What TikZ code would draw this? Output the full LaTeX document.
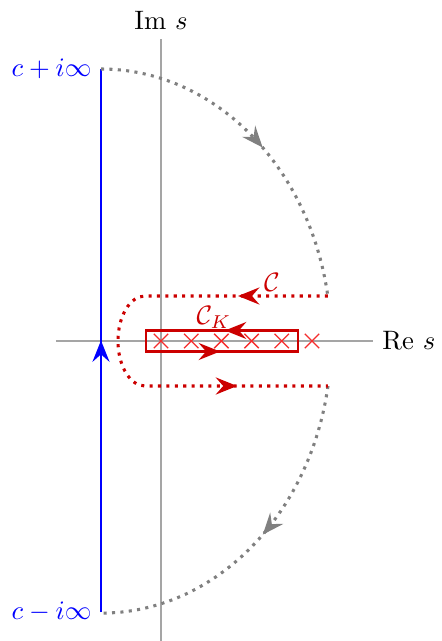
\documentclass[tikz,border=0pt]{standalone}
\usetikzlibrary{arrows.meta,decorations.markings,shapes.misc}
\definecolor{cred}{RGB}{204,0,0}
\definecolor{xred}{RGB}{245,45,45}
\definecolor{arcgray}{RGB}{128,128,128}
\definecolor{axgray}{RGB}{165,165,165}
\begin{document}
\begin{tikzpicture}[x=0.375pt,y=0.375pt,
  midarrow/.style={postaction={decorate},decoration={markings,mark=at position #1 with {\arrow{Stealth[length=8pt,width=6.4pt,inset=2.8pt]}}}},
  axisline/.style={axgray, line width=0.5pt},
  arcline/.style={arcgray, line width=1.15pt, dotted},
  contour/.style={cred, line width=1.15pt, dotted},
  xmk/.style={cross out, draw=xred, line width=0.5pt, minimum size=4.9pt, inner sep=0pt},
  lbl/.style={inner sep=3.33pt}]
\useasboundingbox (-161,341) rectangle (281,-300);
% axes
\coordinate (hl) at (-105,0);
\coordinate (hr) at (212,0);
\coordinate (vt) at (0,302);
\coordinate (vb) at (0,-300);
\draw[axisline] (hl) -- (hr);
\draw[axisline] (vt) -- (vb);
\node[lbl, anchor=west] (re) at (hr) {Re $s$};
\node[lbl, anchor=south] (im) at (vt) {Im $s$};
% blue line
\coordinate (ct) at (-60,272);
\coordinate (cb) at (-60,-271);
\draw[blue, line width=0.9pt, midarrow=0.5] (cb) -- (ct);
\node[blue, lbl, anchor=east] (cpl) at (ct) {$c+i\infty$};
\node[blue, lbl, anchor=east] (cmi) at (cb) {$c-i\infty$};
% gray arcs
\coordinate (ur) at (167,45);
\coordinate (lr) at (167,-45);
\draw[arcline, midarrow=0.53] (ct) arc[start angle=90, end angle=9.5, x radius=86.25pt, y radius=102pt];
\draw[arcline, midarrow=0.47] (lr) arc[start angle=-9.5, end angle=-90, x radius=86.25pt, y radius=102pt];
% red contour C
\coordinate (ul) at (-16,45);
\draw[contour, postaction={decorate}, decoration={markings,
   mark=at position 0.187 with {\arrow{Stealth[length=8pt,width=6.4pt,inset=2.8pt]}},
   mark=at position 0.811 with {\arrow{Stealth[length=8pt,width=6.4pt,inset=2.8pt]}}}]
  (ur) -- (ul) arc[start angle=90, end angle=270, x radius=10.125pt, y radius=16.875pt] -- (lr);
\node[cred, inner sep=0pt] (lc) at (111,59) {$\mathcal{C}$};
% box C_K
\coordinate (bne) at (137,10.5);
\coordinate (bsw) at (-15,-10.5);
\draw[cred, line width=0.9pt] (bsw) rectangle (bne);
\coordinate (ta) at (64,10.5);
\coordinate (ba) at (59,-10.5);
\draw[cred, line width=0.9pt, -{Stealth[length=8pt,width=6.4pt,inset=2.8pt]}] (bne) -- (ta);
\draw[cred, line width=0.9pt, -{Stealth[length=8pt,width=6.4pt,inset=2.8pt]}] (bsw) -- (ba);
\node[cred, inner sep=0pt] (lck) at (53,24) {$\mathcal{C}_K$};
% crosses
\foreach \i in {0,...,5} \node[xmk] (x\i) at (30.2*\i,0) {};
\end{tikzpicture}
\end{document}
